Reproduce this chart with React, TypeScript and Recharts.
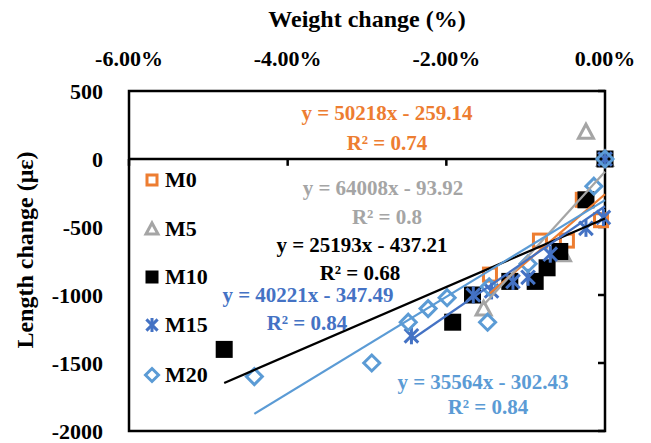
import React from 'react';
import { ScatterChart, Scatter, XAxis, YAxis, ReferenceLine, ReferenceArea } from 'recharts';

// ---- data (x = weight change as fraction, y = length change in µε) ----
const SERIES_NAMES = ['M0', 'M5', 'M10', 'M15', 'M20'];
const SERIES_COLORS = ['#ED7D31', '#A5A5A5', '#000000', '#4472C4', '#5B9BD5'];

const M0_X = [0, -0.0005, -0.0028, -0.0048, -0.0082, -0.0145];
const M0_Y = [0, -450, -300, -600, -600, -850];

const M5_X = [0, -0.0024, -0.0053, -0.0153];
const M5_Y = [0, 200, -700, -1100];

const M10_X = [0, -0.0024, -0.0057, -0.0073, -0.0088, -0.012, -0.0167, -0.0192, -0.048];
const M10_Y = [0, -300, -680, -800, -900, -900, -1000, -1200, -1400];

const M15_X = [0, -0.0002, -0.0024, -0.0069, -0.0097, -0.0116, -0.0143, -0.0166, -0.0244];
const M15_Y = [0, -430, -510, -700, -870, -900, -970, -1000, -1300];

const M20_X = [0, -0.0014, -0.0097, -0.0146, -0.0148, -0.0199, -0.0223, -0.0248, -0.0294, -0.0442];
const M20_Y = [0, -200, -770, -940, -1200, -1020, -1100, -1200, -1500, -1600];

const TREND_SLOPES = [50218, 64008, 25193, 40221, 35564];
const TREND_INTERCEPTS = [-259.14, -93.92, -437.21, -347.49, -302.43];
const TREND_EQ = [
  'y = 50218x - 259.14',
  'y = 64008x - 93.92',
  'y = 25193x - 437.21',
  'y = 40221x - 347.49',
  'y = 35564x - 302.43',
];
const TREND_R2 = ['R² = 0.74', 'R² = 0.8', 'R² = 0.68', 'R² = 0.84', 'R² = 0.84'];

const X_TICKS = [-0.06, -0.04, -0.02, 0];
const Y_TICKS = [-2000, -1500, -1000, -500, 0, 500];

const SERIES_X = [M0_X, M5_X, M10_X, M15_X, M20_X];
const SERIES_Y = [M0_Y, M5_Y, M10_Y, M15_Y, M20_Y];

const seriesData = SERIES_X.map((xs, i) => xs.map((x, j) => ({ x, y: SERIES_Y[i][j] })));
const trendData = SERIES_X.map((xs, i) => {
  const lo = Math.min(...xs);
  const hi = Math.max(...xs);
  return [lo, hi].map((x) => ({ x, y: TREND_SLOPES[i] * x + TREND_INTERCEPTS[i] }));
});

// ---- marker shapes ----
const FONT = '"Liberation Serif", "Times New Roman", serif';

function Marker({ kind, cx, cy, s }: { kind: number; cx: number; cy: number; s: number }) {
  const c = SERIES_COLORS[kind];
  const h = s / 2;
  if (kind === 0) {
    return <rect x={cx - h} y={cy - h} width={s} height={s} fill="#fff" fillOpacity={0} stroke={c} strokeWidth={3} />;
  }
  if (kind === 1) {
    return (
      <polygon
        points={`${cx},${cy - h - 1} ${cx + h + 1},${cy + h} ${cx - h - 1},${cy + h}`}
        fill="none"
        stroke={c}
        strokeWidth={3}
        strokeLinejoin="miter"
      />
    );
  }
  if (kind === 2) {
    return <rect x={cx - h - 2} y={cy - h - 2} width={s + 4} height={s + 4} fill={c} stroke="none" />;
  }
  if (kind === 3) {
    const r = h + 2;
    return (
      <g stroke={c} strokeWidth={3}>
        <line x1={cx - r * 0.8} y1={cy - r * 0.8} x2={cx + r * 0.8} y2={cy + r * 0.8} />
        <line x1={cx - r * 0.8} y1={cy + r * 0.8} x2={cx + r * 0.8} y2={cy - r * 0.8} />
        <line x1={cx} y1={cy - r} x2={cx} y2={cy + r} />
      </g>
    );
  }
  const r = h + 1.5;
  return (
    <polygon
      points={`${cx},${cy - r} ${cx + r},${cy} ${cx},${cy + r} ${cx - r},${cy}`}
      fill="none"
      stroke={c}
      strokeWidth={3}
    />
  );
}

const makeShape = (kind: number) => (props: any) => (
  <Marker kind={kind} cx={props.cx} cy={props.cy} s={13} />
);

const noShape = () => <g />;

const pctFmt = (v: number) => `${(v * 100).toFixed(2)}%`;

const LEGEND_TOPS = [180, 229, 277, 325, 375];

const EQ_POS = [
  [387, 113, 387, 143],
  [383, 188, 387, 217],
  [362, 245, 360, 273],
  [308, 295, 307, 323],
  [483, 382, 488, 407],
];

// length of the small tick marks, in axis units (about 7 px)
const X_TICK_LEN = 50;
const Y_TICK_LEN = 0.00088;

const textStyle = (x: number, y: number, color: string, size: number): React.CSSProperties => ({
  position: 'absolute',
  left: x,
  top: y,
  transform: 'translate(-50%, -50%)',
  whiteSpace: 'nowrap',
  fontFamily: FONT,
  fontWeight: 'bold',
  fontSize: size,
  lineHeight: 1,
  color,
});

export default function App() {
  return (
    <div style={{ position: 'absolute', left: 0, top: 0, width: 651, height: 443, background: '#fff' }}>
      <ScatterChart width={651} height={443} margin={{ top: 0, right: 46, bottom: 12, left: 0 }}>
        <XAxis
          type="number"
          dataKey="x"
          orientation="top"
          height={91}
          domain={[-0.06, 0]}
          ticks={X_TICKS}
          interval={0}
          tickFormatter={pctFmt}
          axisLine={false}
          tickLine={false}
          tickSize={0}
          tickMargin={25}
          tick={{ fill: '#000', fontSize: 22, fontWeight: 'bold', fontFamily: FONT }}
        />
        <YAxis
          yAxisId="left"
          type="number"
          dataKey="y"
          width={129}
          domain={[-2000, 500]}
          ticks={Y_TICKS}
          interval={0}
          axisLine={false}
          tickLine={false}
          tickSize={0}
          tickMargin={26}
          tick={{ fill: '#000', fontSize: 22, fontWeight: 'bold', fontFamily: FONT }}
        />
        <ReferenceArea
          yAxisId="left"
          x1={-0.06}
          x2={0}
          y1={-2000}
          y2={500}
          fill="none"
          stroke="#000"
          strokeWidth={2.5}
          ifOverflow="visible"
        />
        <ReferenceLine yAxisId="left" y={0} stroke="#000" strokeWidth={2.5} />
        {X_TICKS.map((t) => (
          <ReferenceLine
            key={`xt${t}`}
            yAxisId="left"
            segment={[{ x: t, y: 0 }, { x: t, y: -X_TICK_LEN }]}
            stroke="#000"
            strokeWidth={2.5}
          />
        ))}
        {Y_TICKS.map((t) => (
          <ReferenceLine
            key={`yt${t}`}
            yAxisId="left"
            segment={[{ x: 0, y: t }, { x: -Y_TICK_LEN, y: t }]}
            stroke="#000"
            strokeWidth={2.5}
          />
        ))}
        {seriesData.map((d, i) => (
          <Scatter
            key={SERIES_NAMES[i]}
            name={SERIES_NAMES[i]}
            yAxisId="left"
            data={d}
            shape={makeShape(i)}
            isAnimationActive={false}
          />
        ))}
        {trendData.map((d, i) => (
          <Scatter
            key={`trend${i}`}
            name={`trend ${SERIES_NAMES[i]}`}
            yAxisId="left"
            data={d}
            line={{ stroke: SERIES_COLORS[i], strokeWidth: 2.25 }}
            lineType="joint"
            shape={noShape}
            isAnimationActive={false}
          />
        ))}
      </ScatterChart>

      {/* axis titles */}
      <div style={textStyle(367, 19, '#000', 24)}>Weight change (%)</div>
      <div style={{ ...textStyle(25, 250, '#000', 24), transform: 'translate(-50%, -50%) rotate(-90deg)' }}>
        Length change (με)
      </div>

      {/* trendline equations */}
      {TREND_EQ.map((eq, i) => (
        <React.Fragment key={`eq${i}`}>
          <div style={textStyle(EQ_POS[i][0], EQ_POS[i][1], SERIES_COLORS[i], 21)}>{eq}</div>
          <div style={textStyle(EQ_POS[i][2], EQ_POS[i][3], SERIES_COLORS[i], 21)}>{TREND_R2[i]}</div>
        </React.Fragment>
      ))}

      {/* legend */}
      {SERIES_NAMES.map((name, i) => (
        <div key={`lg${name}`}>
          <svg
            width={24}
            height={24}
            style={{ position: 'absolute', left: 140, top: LEGEND_TOPS[i] - 12 }}
          >
            <Marker kind={i} cx={12} cy={12} s={i === 2 ? 9 : 10} />
          </svg>
          <div
            style={{
              position: 'absolute',
              left: 165,
              top: LEGEND_TOPS[i],
              transform: 'translateY(-50%)',
              fontFamily: FONT,
              fontWeight: 'bold',
              fontSize: 22,
              lineHeight: 1,
              color: '#000',
              whiteSpace: 'nowrap',
            }}
          >
            {name}
          </div>
        </div>
      ))}
    </div>
  );
}
